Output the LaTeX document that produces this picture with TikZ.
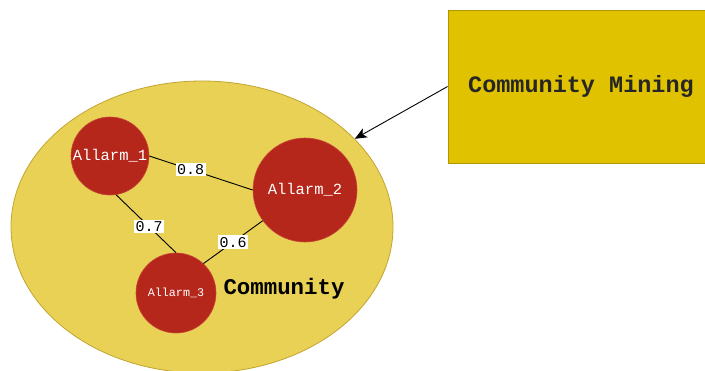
\documentclass[tikz,border=0pt]{standalone}
\usepackage{fontspec}
\setmonofont{Liberation Mono}
\usetikzlibrary{shapes.geometric,arrows.meta}
\definecolor{commfill}{HTML}{E8D154}
\definecolor{commline}{HTML}{C2A530}
\definecolor{minefill}{HTML}{E0C200}
\definecolor{mineline}{HTML}{B09600}
\definecolor{alarmfill}{HTML}{B5261B}
\definecolor{alarmline}{HTML}{C8463A}
\tikzset{
  community/.style={ellipse, draw=commline, fill=commfill, line width=0.8pt,
    minimum width=382pt, minimum height=292pt, inner sep=0pt},
  minebox/.style={rectangle, draw=mineline, fill=minefill, line width=0.8pt,
    minimum width=266pt, minimum height=153pt, inner sep=0pt,
    font=\ttfamily\bfseries\fontsize{23.5}{26}\selectfont, text=black!85},
  alarm/.style={circle, draw=alarmline, fill=alarmfill, line width=0.6pt,
    inner sep=0pt, text=white, font=\ttfamily\fontsize{15.5}{17}\selectfont},
  weight/.style={fill=white, inner sep=1.6pt, text=black,
    font=\ttfamily\fontsize{15}{17}\selectfont},
  link/.style={draw=black, line width=0.9pt},
}
\begin{document}
\begin{tikzpicture}[x=1pt, y=-1pt]
\useasboundingbox (0,0) rectangle (705,370);
\fill[white] (0,0) rectangle (705,370);

% community area and the mining box
\node[community] (comm) at (202,227) {};
\node[minebox] (mine) at (581,86.5) {Community Mining};
\draw[-{Stealth[length=12pt,width=10pt,inset=3pt]}, line width=0.9pt] (mine.west) -- (comm.30);

% alarm nodes
\node[alarm, minimum size=78pt] (a1) at (110,156) {Allarm\_1};
\node[alarm, minimum size=104pt] (a2) at (305,190) {Allarm\_2};
\node[alarm, minimum size=80pt, font=\ttfamily\fontsize{11.7}{13}\selectfont] (a3) at (176,293) {Allarm\_3};

\node[font=\ttfamily\bfseries\fontsize{22.4}{25}\selectfont] (clabel) at (284,289) {Community};

% weighted links
\draw[link] (a1.east) -- node[weight, pos=0.4] (w12) {0.8} (a2.west);
\draw[link] (a1.-81) -- node[weight, pos=0.55] (w13) {0.7} (a3.north);
\draw[link] (a3.47) -- node[weight, pos=0.5] (w32) {0.6} (a2.216);
\end{tikzpicture}
\end{document}
